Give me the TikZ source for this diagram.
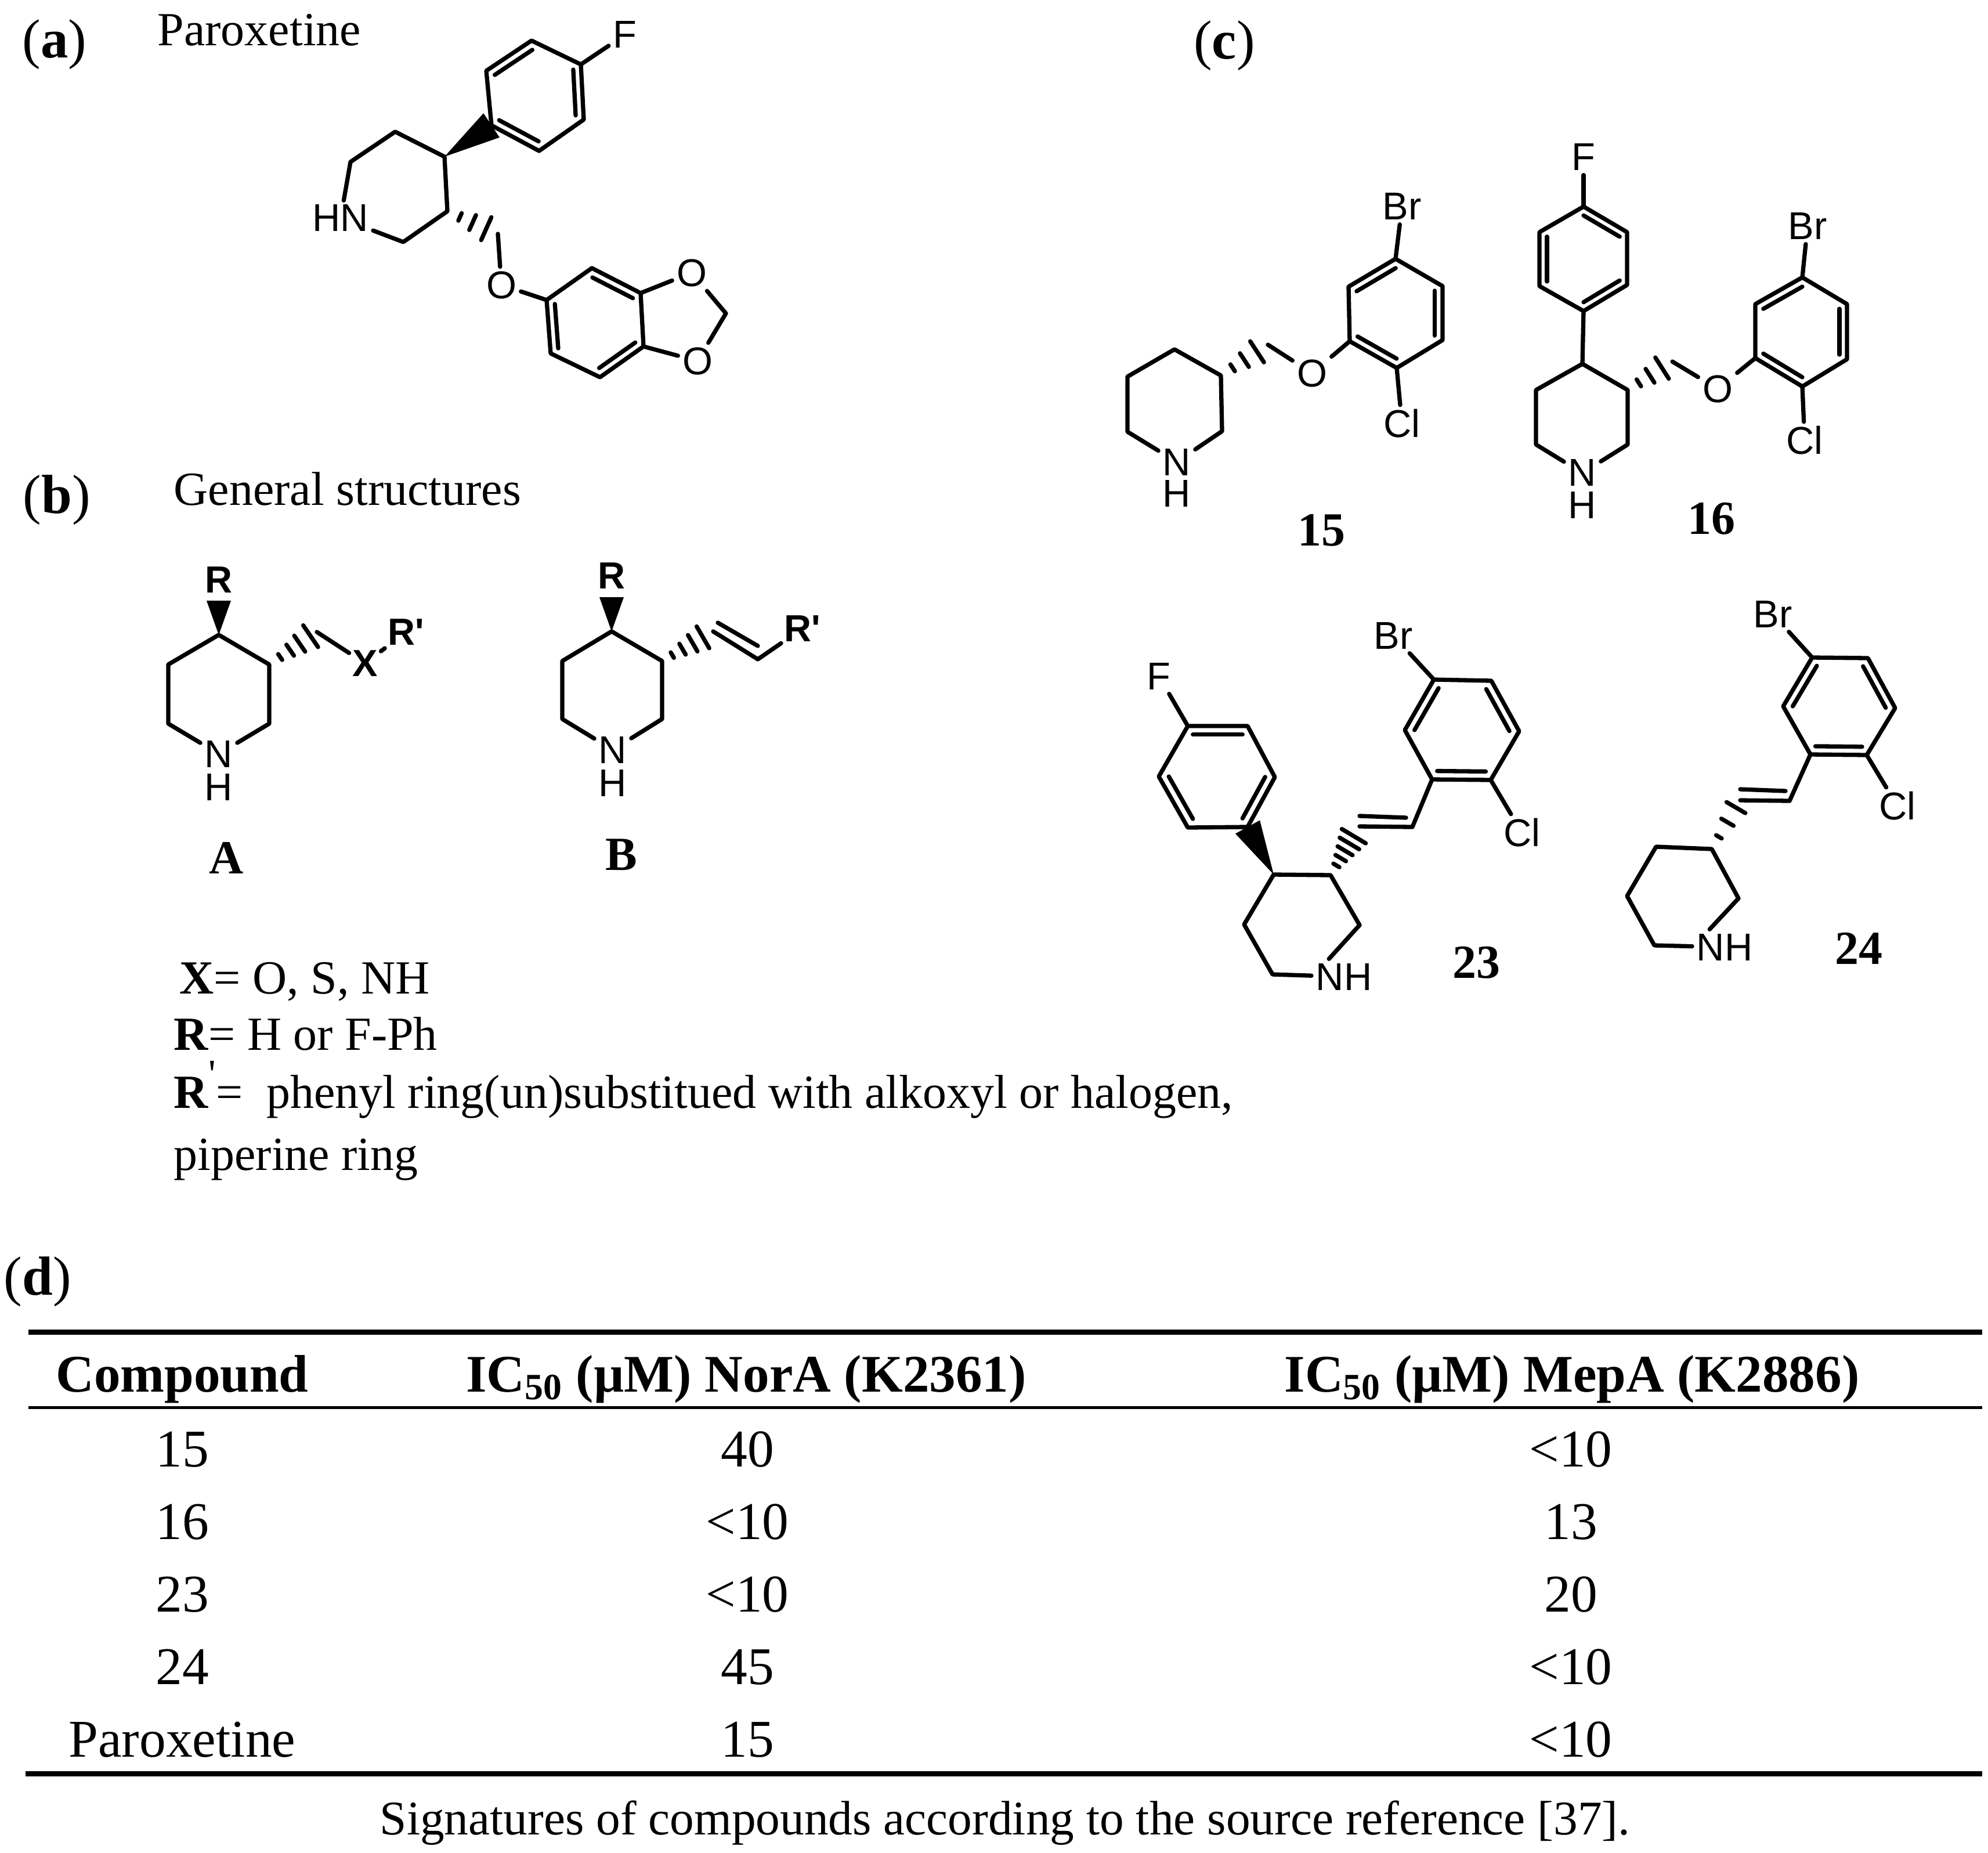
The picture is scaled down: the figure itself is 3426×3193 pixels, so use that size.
\documentclass[tikz,border=0pt]{standalone}
\usepackage{fontspec}
\setmainfont{Liberation Serif}
\setsansfont{Liberation Sans}
\usetikzlibrary{calc}
\tikzstyle{bond} = [draw=black, line width=0.073cm, line cap=round, line join=round]
\tikzstyle{atom} = [font=\fontsize{19}{20}\selectfont\sffamily, inner sep=0.07cm]
\tikzstyle{boldatom} = [font=\fontsize{18.5}{20}\selectfont\sffamily\bfseries, inner sep=0.05cm]
\tikzstyle{panel} = [font=\fontsize{27}{30}\selectfont, anchor=base, inner sep=0pt]
\tikzstyle{label} = [font=\fontsize{23.3}{28}\selectfont, anchor=base west, inner sep=0pt]
\tikzstyle{number} = [font=\fontsize{23.3}{28}\selectfont\bfseries, inner sep=0pt]
\tikzstyle{heading} = [font=\fontsize{25.9}{30}\selectfont\bfseries, anchor=base, inner sep=0pt]
\tikzstyle{cell} = [font=\fontsize{26}{30}\selectfont, anchor=base, inner sep=0pt]
\newcommand{\dblbond}[3]{\draw[bond] ($(#1)!0.17!(#3)$) -- ($(#2)!0.17!(#3)$);}
\newcommand{\wedgebond}[3]{\fill ($(#2)!#3!90:(#1)$) -- (#1) -- ($(#2)!#3!-90:(#1)$) -- cycle;}
\newcommand{\hashbond}[4]{\foreach \t in {#4}{
    \coordinate (hashp) at ($(#1)!\t!(#2)$);
    \draw[bond] ($(hashp)!\t*#3!90:(#2)$) -- ($(hashp)!\t*#3!-90:(#2)$);}}

\begin{document}
\begin{tikzpicture}[x=0.01cm, y=-0.01cm]
    \useasboundingbox (0,0) rectangle (3426,3193);

    \node[panel] (panelA) at (94,99) {(\textbf{a})};
    \node[label] (titleA) at (271,78) {Paroxetine};
    \node[panel] (panelB) at (98,884) {(\textbf{b})};
    \node[label] (titleB) at (299,870) {General structures};
    \node[panel] (panelC) at (2110,101) {(\textbf{c})};
    \node[panel] (panelD) at (65,2231) {(\textbf{d})};

    \begin{scope}[shift={(-2,-2)}]
    \node[atom] (parF) at (1079,62) {F};
    \node[atom] (parN) at (589,378) {HN};
    \node[atom] (parO) at (866,493) {O};
    \node[atom] (parOa) at (1194,472) {O};
    \node[atom] (parOb) at (1204,624) {O};
    \coordinate (parC1) at (1003,113);
    \coordinate (parC2) at (918,72);
    \coordinate (parC3) at (840,124);
    \coordinate (parC4) at (849,218);
    \coordinate (parC5) at (931,262);
    \coordinate (parC6) at (1008,208);
    \coordinate (parC0) at ($(parC1)!0.5!(parC4)$);
    \coordinate (parP1) at (768,272);
    \coordinate (parP2) at (683,229);
    \coordinate (parP3) at (606,281);
    \coordinate (parP4) at (697,419);
    \coordinate (parP5) at (773,366);
    \coordinate (parCH) at (860,405);
    \coordinate (parB1) at (944,519);
    \coordinate (parB2) at (1022,464);
    \coordinate (parB3) at (1106,507);
    \coordinate (parB4) at (1111,599);
    \coordinate (parB5) at (1036,652);
    \coordinate (parB6) at (951,611);
    \coordinate (parB0) at ($(parB1)!0.5!(parB4)$);
    \coordinate (parD) at (1253,542);
    \draw[bond] (parC1) -- (parC2) -- (parC3) -- (parC4) -- (parC5) -- (parC6) -- cycle;
    \draw[bond] (parC1) -- (parF);
    \dblbond{parC2}{parC3}{parC0}
    \dblbond{parC1}{parC6}{parC0}
    \dblbond{parC4}{parC5}{parC0}
    \wedgebond{parP1}{parC4}{0.25cm}
    \draw[bond] (parN) -- (parP3) -- (parP2) -- (parP1) -- (parP5) -- (parP4) -- (parN);
    \hashbond{parP5}{parCH}{0.28cm}{0.25,0.5,0.77}
    \draw[bond] (parCH) -- (parO);
    \draw[bond] (parO) -- (parB1);
    \draw[bond] (parB1) -- (parB2) -- (parB3) -- (parB4) -- (parB5) -- (parB6) -- cycle;
    \dblbond{parB1}{parB6}{parB0}
    \dblbond{parB2}{parB3}{parB0}
    \dblbond{parB4}{parB5}{parB0}
    \draw[bond] (parB3) -- (parOa) -- (parD) -- (parOb) -- (parB4);
    \end{scope}

    \node[boldatom] (aR) at (377,999) {R};
    \node[atom] (aN) at (377,1299) {N};
    \node[atom] (aH) at (377,1356) {H};
    \node[boldatom] (aX) at (629,1143) {X};
    \node[boldatom] (aRp) at (700,1089) {R\textquotesingle};
    \coordinate (aP1) at (377,1094);
    \coordinate (aP2) at (464,1145);
    \coordinate (aP3) at (464,1247);
    \coordinate (aP5) at (290,1247);
    \coordinate (aP6) at (290,1145);
    \coordinate (aW) at (377,1035);
    \coordinate (aCH) at (546,1089);
    \draw[bond] (aN) -- (aP5) -- (aP6) -- (aP1) -- (aP2) -- (aP3) -- (aN);
    \wedgebond{aP1}{aW}{0.21cm}
    \hashbond{aP2}{aCH}{0.26cm}{0.23,0.44,0.64,0.87}
    \draw[bond] (aCH) -- (aX);
    \draw[bond] (aX) -- (aRp);
    \node[number] (aName) at (390,1478) {A};

    \begin{scope}[shift={(-4,-1)}]
    \node[boldatom] (bR) at (1058,993) {R};
    \node[atom] (bN) at (1060,1293) {N};
    \node[atom] (bH) at (1060,1350) {H};
    \node[boldatom] (bRp) at (1387,1084) {R\textquotesingle};
    \coordinate (bP1) at (1058,1089);
    \coordinate (bP2) at (1145,1140);
    \coordinate (bP3) at (1145,1240);
    \coordinate (bP5) at (973,1240);
    \coordinate (bP6) at (973,1140);
    \coordinate (bW) at (1058,1030);
    \coordinate (bV1) at (1233,1089);
    \coordinate (bV2) at (1310,1137);
    \coordinate (bU1) at (1241,1074);
    \coordinate (bU2) at (1310,1114);
    \draw[bond] (bN) -- (bP5) -- (bP6) -- (bP1) -- (bP2) -- (bP3) -- (bN);
    \wedgebond{bP1}{bW}{0.21cm}
    \hashbond{bP2}{bV1}{0.27cm}{0.2,0.4,0.6,0.8}
    \draw[bond] (bV1) -- (bV2) -- (bRp);
    \draw[bond] (bU1) -- (bU2);
    \node[number] (bName) at (1075,1474) {B};
    \end{scope}

    \node[label] (defX) at (309,1712) {\textbf{X}= O, S, NH};
    \node[label] (defR) at (299,1809) {\textbf{R}= H or F-Ph};
    \node[label] (defRp) at (299,1909) {\textbf{R}\raisebox{0.42em}{\fontsize{20}{20}\selectfont\textquotesingle}=\hspace{0.5em}phenyl ring(un)substitued with alkoxyl or halogen,};
    \node[label] (defRq) at (299,2016) {piperine ring};

    \begin{scope}[shift={(-2,-1)}]
    \node[atom] (oBr) at (2418,357) {Br};
    \node[atom] (oCl) at (2418,731) {Cl};
    \node[atom] (oO) at (2263,644) {O};
    \node[atom] (oN) at (2030,797) {N};
    \node[atom] (oH) at (2030,852) {H};
    \coordinate (oR1) at (2407,447);
    \coordinate (oR2) at (2488,494);
    \coordinate (oR3) at (2488,587);
    \coordinate (oR4) at (2409,635);
    \coordinate (oR5) at (2328,589);
    \coordinate (oR6) at (2326,495);
    \coordinate (oR0) at ($(oR1)!0.5!(oR4)$);
    \coordinate (oCH) at (2187,595);
    \coordinate (oP1) at (2026,603);
    \coordinate (oP2) at (2106,648);
    \coordinate (oP3) at (2108,744);
    \coordinate (oP5) at (1945,745);
    \coordinate (oP6) at (1945,650);
    \draw[bond] (oR1) -- (oR2) -- (oR3) -- (oR4) -- (oR5) -- (oR6) -- cycle;
    \dblbond{oR1}{oR6}{oR0}
    \dblbond{oR2}{oR3}{oR0}
    \dblbond{oR4}{oR5}{oR0}
    \draw[bond] (oR1) -- (oBr);
    \draw[bond] (oR4) -- (oCl);
    \draw[bond] (oR5) -- (oO) -- (oCH);
    \hashbond{oP2}{oCH}{0.28cm}{0.25,0.5,0.77}
    \draw[bond] (oN) -- (oP5) -- (oP6) -- (oP1) -- (oP2) -- (oP3) -- (oN);
    \node[number] (oName) at (2279,915) {15};
    \end{scope}

    \begin{scope}[shift={(-5,-1)}]
    \node[atom] (pF) at (2734,272) {F};
    \node[atom] (pBr) at (3120,391) {Br};
    \node[atom] (pCl) at (3115,760) {Cl};
    \node[atom] (pO) at (2965,671) {O};
    \node[atom] (pN) at (2732,816) {N};
    \node[atom] (pH) at (2732,872) {H};
    \coordinate (pF1) at (2734,357);
    \coordinate (pF2) at (2809,401);
    \coordinate (pF3) at (2809,492);
    \coordinate (pF4) at (2734,537);
    \coordinate (pF5) at (2658,494);
    \coordinate (pF6) at (2658,401);
    \coordinate (pF0) at ($(pF1)!0.5!(pF4)$);
    \coordinate (pQ1) at (2732,628);
    \coordinate (pQ2) at (2810,673);
    \coordinate (pQ3) at (2810,767);
    \coordinate (pQ5) at (2652,767);
    \coordinate (pQ6) at (2652,673);
    \coordinate (pCH) at (2887,624);
    \coordinate (pR1) at (3111,479);
    \coordinate (pR2) at (3188,525);
    \coordinate (pR3) at (3188,620);
    \coordinate (pR4) at (3111,667);
    \coordinate (pR5) at (3030,618);
    \coordinate (pR6) at (3030,525);
    \coordinate (pR0) at ($(pR1)!0.5!(pR4)$);
    \draw[bond] (pF1) -- (pF2) -- (pF3) -- (pF4) -- (pF5) -- (pF6) -- cycle;
    \dblbond{pF1}{pF2}{pF0}
    \dblbond{pF3}{pF4}{pF0}
    \dblbond{pF5}{pF6}{pF0}
    \draw[bond] (pF) -- (pF1);
    \draw[bond] (pF4) -- (pQ1);
    \draw[bond] (pN) -- (pQ5) -- (pQ6) -- (pQ1) -- (pQ2) -- (pQ3) -- (pN);
    \hashbond{pQ2}{pCH}{0.28cm}{0.25,0.5,0.77}
    \draw[bond] (pCH) -- (pO) -- (pR5);
    \draw[bond] (pR1) -- (pR2) -- (pR3) -- (pR4) -- (pR5) -- (pR6) -- cycle;
    \dblbond{pR1}{pR6}{pR0}
    \dblbond{pR2}{pR3}{pR0}
    \dblbond{pR4}{pR5}{pR0}
    \draw[bond] (pR1) -- (pBr);
    \draw[bond] (pR4) -- (pCl);
    \node[number] (pName) at (2954,895) {16};
    \end{scope}

    \begin{scope}[shift={(-2,-2)}]
    \node[atom] (sF) at (1999,1167) {F};
    \node[atom] (sBr) at (2403,1097) {Br};
    \node[atom] (sCl) at (2625,1437) {Cl};
    \node[atom] (sN) at (2318,1685) {NH};
    \coordinate (sG1) at (2049,1253);
    \coordinate (sG2) at (2152,1253);
    \coordinate (sG3) at (2199,1341);
    \coordinate (sG4) at (2152,1427);
    \coordinate (sG5) at (2049,1428);
    \coordinate (sG6) at (1999,1340);
    \coordinate (sG0) at ($(sG1)!0.5!(sG4)$);
    \coordinate (sH1) at (2197,1509);
    \coordinate (sH2) at (2295,1510);
    \coordinate (sH3) at (2345,1596);
    \coordinate (sH5) at (2195,1681);
    \coordinate (sH6) at (2146,1595);
    \coordinate (sV1) at (2345,1426);
    \coordinate (sV2) at (2436,1427);
    \coordinate (sU1) at (2345,1408);
    \coordinate (sU2) at (2425,1411);
    \coordinate (sK1) at (2470,1345);
    \coordinate (sK2) at (2571,1346);
    \coordinate (sK3) at (2620,1262);
    \coordinate (sK4) at (2572,1175);
    \coordinate (sK5) at (2473,1173);
    \coordinate (sK6) at (2423,1260);
    \coordinate (sK0) at ($(sK1)!0.5!(sK4)$);
    \draw[bond] (sG1) -- (sG2) -- (sG3) -- (sG4) -- (sG5) -- (sG6) -- cycle;
    \dblbond{sG1}{sG2}{sG0}
    \dblbond{sG3}{sG4}{sG0}
    \dblbond{sG5}{sG6}{sG0}
    \draw[bond] (sF) -- (sG1);
    \wedgebond{sH1}{sG4}{0.24cm}
    \draw[bond] (sN.130) -- (sH3) -- (sH2) -- (sH1) -- (sH6) -- (sH5) -- (sN);
    \hashbond{sH2}{sV1}{0.3cm}{0.2,0.35,0.5,0.65,0.8}
    \draw[bond] (sV1) -- (sV2) -- (sK1);
    \draw[bond] (sU1) -- (sU2);
    \draw[bond] (sK1) -- (sK2) -- (sK3) -- (sK4) -- (sK5) -- (sK6) -- cycle;
    \dblbond{sK1}{sK2}{sK0}
    \dblbond{sK3}{sK4}{sK0}
    \dblbond{sK5}{sK6}{sK0}
    \draw[bond] (sK5) -- (sBr);
    \draw[bond] (sK2) -- (sCl);
    \node[number] (sName) at (2546,1661) {23};
    \end{scope}

    \begin{scope}[shift={(-5,-2)}]
    \node[atom] (tBr) at (3060,1060) {Br};
    \node[atom] (tCl) at (3275,1391) {Cl};
    \node[atom] (tN) at (2977,1634) {NH};
    \coordinate (tR1) at (3128,1135);
    \coordinate (tR2) at (3224,1136);
    \coordinate (tR3) at (3271,1222);
    \coordinate (tR4) at (3222,1303);
    \coordinate (tR5) at (3125,1302);
    \coordinate (tR6) at (3078,1219);
    \coordinate (tR0) at ($(tR1)!0.5!(tR4)$);
    \coordinate (tV2) at (3089,1382);
    \coordinate (tV1) at (3004,1381);
    \coordinate (tU2) at (3082,1365);
    \coordinate (tU1) at (3004,1362);
    \coordinate (tP1) at (2955,1465);
    \coordinate (tP2) at (3001,1550);
    \coordinate (tP4) at (2856,1631);
    \coordinate (tP5) at (2809,1546);
    \coordinate (tP6) at (2859,1461);
    \draw[bond] (tR1) -- (tR2) -- (tR3) -- (tR4) -- (tR5) -- (tR6) -- cycle;
    \dblbond{tR1}{tR6}{tR0}
    \dblbond{tR2}{tR3}{tR0}
    \dblbond{tR4}{tR5}{tR0}
    \draw[bond] (tR1) -- (tBr);
    \draw[bond] (tR4) -- (tCl);
    \draw[bond] (tR5) -- (tV2) -- (tV1);
    \draw[bond] (tU1) -- (tU2);
    \hashbond{tP1}{tV1}{0.22cm}{0.25,0.55,0.85}
    \draw[bond] (tN.130) -- (tP2) -- (tP1) -- (tP6) -- (tP5) -- (tP4) -- (tN);
    \node[number] (tName) at (3208,1636) {24};
    \end{scope}

    \draw[line width=0.09cm] (49,2295) -- (3416,2295);
    \draw[line width=0.05cm] (49,2425) -- (3416,2425);
    \draw[line width=0.09cm] (44,3056) -- (3416,3056);
    \node[heading] (headA) at (314,2398) {Compound};
    \node[heading] (headB) at (1286,2398) {IC\textsubscript{50} (µM) NorA (K2361)};
    \node[heading] (headC) at (2709,2398) {IC\textsubscript{50} (µM) MepA (K2886)};
    \node[cell] (rowAa) at (314,2527) {15};
    \node[cell] (rowAb) at (1288,2527) {40};
    \node[cell] (rowAc) at (2707,2527) {<10};
    \node[cell] (rowBa) at (314,2652) {16};
    \node[cell] (rowBb) at (1288,2652) {<10};
    \node[cell] (rowBc) at (2707,2652) {13};
    \node[cell] (rowCa) at (314,2777) {23};
    \node[cell] (rowCb) at (1288,2777) {<10};
    \node[cell] (rowCc) at (2707,2777) {20};
    \node[cell] (rowDa) at (314,2902) {24};
    \node[cell] (rowDb) at (1288,2902) {45};
    \node[cell] (rowDc) at (2707,2902) {<10};
    \node[cell] (rowEa) at (314,3027) {Paroxetine};
    \node[cell] (rowEb) at (1288,3027) {15};
    \node[cell] (rowEc) at (2707,3027) {<10};
    \node[cell, font=\fontsize{23.7}{28}\selectfont] (caption) at (1732,3161) {Signatures of compounds according to the source reference [37].};
\end{tikzpicture}
\end{document}
